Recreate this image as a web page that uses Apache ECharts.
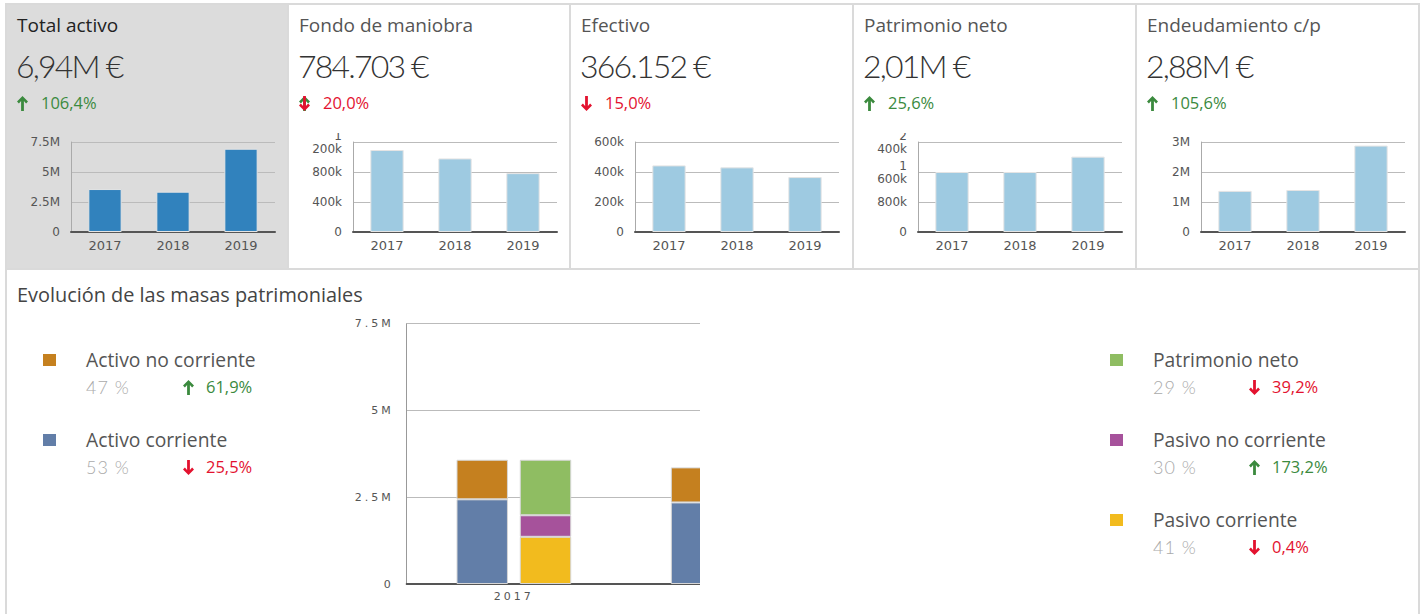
<!DOCTYPE html>
<html><head><meta charset="utf-8">
<script src="https://cdn.jsdelivr.net/npm/echarts@6/dist/echarts.min.js"></script>
<style>
body{margin:0;background:#fff;font-family:'Open Sans',Roboto,sans-serif;}
#page{position:relative;width:1423px;height:614px;overflow:hidden;background:#fff;}
.ln{position:absolute;background:#dadada;}
.t{position:absolute;white-space:nowrap;line-height:1;font-family:'Open Sans',Roboto,sans-serif;}
.lt{font-family:Lato,'Open Sans',sans-serif;font-weight:300;}
.chart{position:absolute;}
#bottomWrap{position:absolute;left:340px;top:300px;width:360px;height:314px;overflow:hidden;}
#bottomChart{position:absolute;left:0;top:0;width:760px;height:314px;letter-spacing:3px;}
svg.arr{position:absolute;}
</style></head>
<body><div id="page"></div>
<script>
// ---------- data ----------
const years = ['2017', '2018', '2019'];
const totalActivo     = [3580000, 3360000, 6940000];
const fondoManiobra   = [1093000, 981000, 784703];
const efectivo        = [444000, 431000, 366152];
const patrimonioNeto  = [1600000, 1600000, 2010000];
const endeudamientoCP = [1370000, 1400000, 2880000];

const activoCorriente     = [2440000, 2350000, 3680000];
const activoNoCorriente   = [1140000, 1010000, 3260000];
const pasivoCorriente     = [1360000, 1400000, 2850000];
const pasivoNoCorriente   = [620000, 360000, 2080000];
const patrimonioNetoMasas = [1600000, 1600000, 2010000];

const kpiTitles = ['Total activo', 'Fondo de maniobra', 'Efectivo', 'Patrimonio neto', 'Endeudamiento c/p'];
const kpiValues = ['6,94M €', '784.703 €', '366.152 €', '2,01M €', '2,88M €'];
const kpiDeltas = ['106,4%', '20,0%', '15,0%', '25,6%', '105,6%'];
const kpiDirs   = ['up', 'both', 'down', 'up', 'up'];
const kpiDeltaColor = ['green', 'red', 'red', 'green', 'green'];

const leftLegendNames  = ['Activo no corriente', 'Activo corriente'];
const leftLegendShares = ['47 %', '53 %'];
const leftLegendDeltas = ['61,9%', '25,5%'];
const leftLegendDirs   = ['up', 'down'];
const rightLegendNames  = ['Patrimonio neto', 'Pasivo no corriente', 'Pasivo corriente'];
const rightLegendShares = ['29 %', '30 %', '41 %'];
const rightLegendDeltas = ['39,2%', '173,2%', '0,4%'];
const rightLegendDirs   = ['down', 'up', 'down'];

// ---------- styles ----------
const GREEN = '#3b8a3e', RED = '#e3122f';
const C_ANC = '#c5801f', C_AC = '#627ea8', C_PN = '#8fbd62', C_PNC = '#a6529b', C_PC = '#f2bb1e';
const page = document.getElementById('page');

function div(cls, style, html) {
  const d = document.createElement('div');
  d.className = cls; d.style.cssText = style;
  if (html !== undefined) d.textContent = html;
  page.appendChild(d); return d;
}
function arrow(x, y, dir, color) {
  const ns = 'http://www.w3.org/2000/svg';
  const s = document.createElementNS(ns, 'svg');
  s.setAttribute('class', 'arr'); s.setAttribute('width', 11); s.setAttribute('height', 15);
  s.setAttribute('viewBox', '0 0 11 15');
  s.style.left = x + 'px'; s.style.top = y + 'px';
  const p = document.createElementNS(ns, 'path');
  p.setAttribute('d', 'M5.5 0 L11 5.6 L9.1 7.4 L6.9 5.1 L6.9 15 L4.1 15 L4.1 5.1 L1.9 7.4 L0 5.6 Z');
  p.setAttribute('fill', color);
  if (dir === 'down') p.setAttribute('transform', 'rotate(180 5.5 7.5)');
  s.appendChild(p); page.appendChild(s);
}
function deltaArrow(x, y, dir) {
  if (dir === 'both') { arrow(x, y, 'up', GREEN); arrow(x, y, 'down', RED); }
  else arrow(x, y, dir, dir === 'up' ? GREEN : RED);
}

// ---------- frame ----------
div('ln', 'left:7px;top:5px;width:280px;height:263px;background:#dcdcdc;');
div('ln', 'left:5px;top:3px;width:1415px;height:2px;');
div('ln', 'left:5px;top:268px;width:1415px;height:2px;');
div('ln', 'left:5px;top:3px;width:2px;height:611px;');
div('ln', 'left:1418px;top:3px;width:2px;height:611px;');
const seps = [287, 569, 852, 1135];
seps.forEach(x => div('ln', `left:${x}px;top:3px;width:2px;height:266px;`));
const inner = [7, 289, 571, 854, 1137];

// ---------- KPI cards ----------
kpiTitles.forEach((title, i) => {
  const L = inner[i];
  div('t', `left:${L + 10}px;top:16px;font-size:19px;color:${i === 0 ? '#222' : '#555'};`, title);
  div('t lt', `left:${L + 9}px;top:49.5px;font-size:32px;letter-spacing:-1.8px;color:#333;`, kpiValues[i]);
  deltaArrow(L + 10, 96, kpiDirs[i]);
  div('t', `left:${L + 34}px;top:95.3px;font-size:16.5px;color:${kpiDeltaColor[i] === 'green' ? GREEN : RED};`, kpiDeltas[i]);
});

// ---------- bottom section text ----------
div('t', 'left:17px;top:285px;font-size:19.9px;color:#444;', 'Evolución de las masas patrimoniales');
function legendItem(x, base, color, name, share, delta, dir, deltaX) {
  div('ln', `left:${x}px;top:${base - 13}px;width:13px;height:12px;background:${color};`);
  div('t', `left:${x + 43}px;top:${base - 17.1}px;font-size:19.3px;color:#555;`, name);
  div('t lt', `left:${x + 43}px;top:${base + 27 - 16}px;font-size:18px;letter-spacing:1px;color:#aaa;`, share);
  deltaArrow(deltaX, base + 27 - 14, dir);
  div('t', `left:${deltaX + 23}px;top:${base + 27 - 14.7}px;font-size:16.5px;color:${dir === 'up' ? GREEN : RED};`, delta);
}
const leftColors = [C_ANC, C_AC];
leftLegendNames.forEach((n, i) => legendItem(43, 367 + 80 * i, leftColors[i], n, leftLegendShares[i], leftLegendDeltas[i], leftLegendDirs[i], 183));
const rightColors = [C_PN, C_PNC, C_PC];
rightLegendNames.forEach((n, i) => legendItem(1110, 367 + 80 * i, rightColors[i], n, rightLegendShares[i], rightLegendDeltas[i], rightLegendDirs[i], 1249));

// ---------- mini charts ----------
const fmtM = v => v === 0 ? '0' : (v / 1e6) + 'M';
const fmtK = v => {
  if (v === 0) return '0';
  const k = Math.round(v / 1000);
  if (k >= 1000) return Math.floor(k / 1000) + '\n' + String(k % 1000).padStart(3, '0') + 'k';
  return k + 'k';
};
const miniCfg = [
  { data: totalActivo,     color: '#3182bd', max: 7500000, interval: 2500000, fmt: fmtM },
  { data: fondoManiobra,   color: '#9ecae1', max: 1200000, interval: 400000,  fmt: fmtK },
  { data: efectivo,        color: '#9ecae1', max: 600000,  interval: 200000,  fmt: fmtK },
  { data: patrimonioNeto,  color: '#9ecae1', max: 2400000, interval: 800000,  fmt: fmtK },
  { data: endeudamientoCP, color: '#9ecae1', max: 3000000, interval: 1000000, fmt: fmtM }
];
miniCfg.forEach((cfg, i) => {
  const el = div('chart', `left:${inner[i]}px;top:133px;width:281px;height:135px;`);
  const c = echarts.init(el, null, { renderer: 'svg' });
  c.setOption({
    animation: false,
    grid: { left: 64, right: 13, top: 9, bottom: 36, containLabel: false, outerBoundsMode: 'none' },
    xAxis: {
      type: 'category', data: years,
      axisTick: { show: false },
      axisLine: { lineStyle: { color: '#555', width: 2 } },
      axisLabel: { color: '#555', fontFamily: 'DejaVu Sans', fontSize: 13, margin: 7 }
    },
    yAxis: {
      type: 'value', min: 0, max: cfg.max, interval: cfg.interval,
      axisLine: { show: true, lineStyle: { color: '#aaa', width: 1 } },
      splitLine: { lineStyle: { color: '#bbb', width: 1 } },
      axisLabel: { formatter: cfg.fmt, color: '#555', fontFamily: 'DejaVu Sans', fontSize: 12, margin: 11, lineHeight: 13 }
    },
    series: [{
      type: 'bar', data: cfg.data, barWidth: '49%',
      itemStyle: { color: cfg.color, borderColor: '#e4e4e4', borderWidth: 1 }
    }]
  });
});

// ---------- bottom chart ----------
const wrap = document.createElement('div'); wrap.id = 'bottomWrap'; page.appendChild(wrap);
const bEl = document.createElement('div'); bEl.id = 'bottomChart'; wrap.appendChild(bEl);
const bc = echarts.init(bEl, null, { renderer: 'svg' });
const bStyle = col => ({ color: col, borderColor: '#d6d6d6', borderWidth: 1 });
bc.setOption({
  animation: false,
  grid: { left: 66.7, right: 50.3, top: 23.7, bottom: 30, containLabel: false, outerBoundsMode: 'none' },
  xAxis: {
    type: 'category', data: years,
    axisTick: { show: false },
    axisLine: { lineStyle: { color: '#555', width: 2 } },
    // only the first year lies inside the visible window of this chart
    axisLabel: { color: '#555', fontFamily: 'DejaVu Sans', fontSize: 11, margin: 7, interval: idx => idx === 0 }
  },
  yAxis: {
    type: 'value', min: 0, max: 7500000, interval: 2500000,
    axisLine: { show: true, lineStyle: { color: '#999', width: 1 } },
    splitLine: { lineStyle: { color: '#bbb', width: 1 } },
    axisLabel: { formatter: fmtM, color: '#555', fontFamily: 'DejaVu Sans', fontSize: 11, margin: 13 }
  },
  series: [
    { name: 'Activo corriente', type: 'bar', stack: 'activo', data: activoCorriente, barWidth: '24%', barGap: '23%', itemStyle: bStyle(C_AC) },
    { name: 'Activo no corriente', type: 'bar', stack: 'activo', data: activoNoCorriente, itemStyle: bStyle(C_ANC) },
    { name: 'Pasivo corriente', type: 'bar', stack: 'pasivo', data: pasivoCorriente, barWidth: '24%', barGap: '23%', itemStyle: bStyle(C_PC) },
    { name: 'Pasivo no corriente', type: 'bar', stack: 'pasivo', data: pasivoNoCorriente, itemStyle: bStyle(C_PNC) },
    { name: 'Patrimonio neto', type: 'bar', stack: 'pasivo', data: patrimonioNetoMasas, itemStyle: bStyle(C_PN) }
  ]
});
</script>
</body></html>
